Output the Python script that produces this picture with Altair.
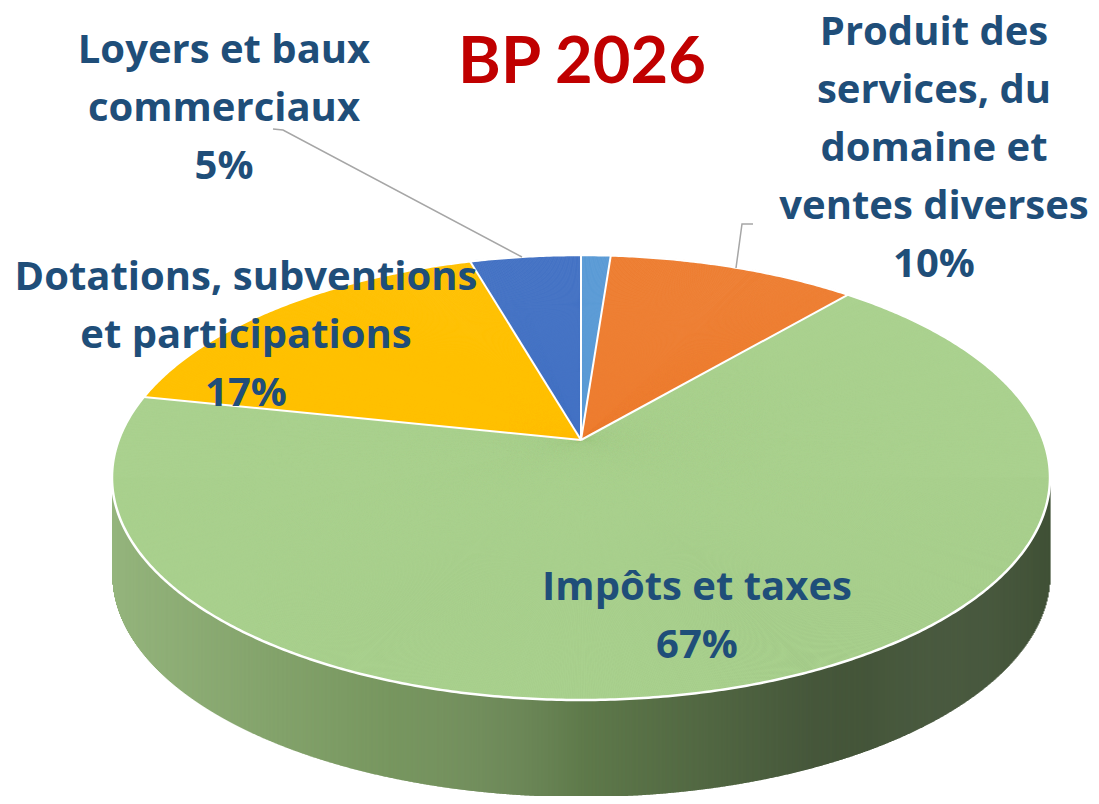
import math
import altair as alt
import pandas as pd

# ---------------- data ----------------
categories = [
    "Autres produits",
    "Produit des services, du domaine et ventes diverses",
    "Impôts et taxes",
    "Dotations, subventions et participations",
    "Loyers et baux commerciaux",
]
values = [1.2, 10.1, 67.0, 17.2, 4.5]          # clockwise from 12 o'clock
colors = ["#5B9BD5", "#ED7D31", "#A9D18E", "#FFC000", "#4472C4"]

label_texts = [
    "Loyers et baux\ncommerciaux\n5%",
    "Produit des\nservices, du\ndomaine et\nventes diverses\n10%",
    "Dotations, subventions\net participations\n17%",
    "Impôts et taxes\n67%",
]
label_x = [224, 934, 246, 697]
label_y = [63, 45, 290, 600]

title_text = "BP 2026"
title_x, title_y = 582, 83

leader_id = ["L", "L", "L", "P", "P", "P"]
leader_x = [273, 283, 522, 753, 742, 736]
leader_y = [129, 130, 257, 224, 224, 268]

# ---------------- geometry / style ----------------
OFF = 8
CX, CY = 581 - OFF, 440 - OFF          # apex of the pie (projected centre)
A, B, K = 462.3, 216.2, 0.1685         # perspective projection of the disc
DEPTH = 97
RX = A / math.sqrt(1 - K * K)
RY = B / (1 - K * K)
CYE = CY + B * K / (1 - K * K)         # geometric centre of the top ellipse
XL, XR = CX - RX, CX + RX
W = XR - XL

LABEL_FONT = "Open Sans"

df = pd.DataFrame({"cat": categories, "value": values, "order": list(range(len(values)))})
lab = pd.DataFrame({"text": label_texts, "x": [v - OFF for v in label_x], "y": [v - OFF for v in label_y]})
lead = pd.DataFrame({"id": leader_id, "x": [v - OFF for v in leader_x],
                     "y": [v - OFF for v in leader_y], "o": list(range(len(leader_x)))})
ttl = pd.DataFrame({"text": [title_text], "x": [title_x - OFF], "y": [title_y - OFF]})

NOSC = dict(scale=None, axis=None)

def cum(ch):
    return ch.transform_window(cum="sum(value)", sort=[alt.SortField("order")], frame=[None, 0]
    ).transform_joinaggregate(total="sum(value)"
    ).transform_calculate(
        s="2*PI*(datum.cum-datum.value)/datum.total",
        e="2*PI*datum.cum/datum.total",
    )

# side wall (vertical columns, shaded through a colour scale)
NCOL = 940
wall = alt.Chart(alt.sequence(0, NCOL, as_="i")).transform_calculate(
    xa=f"{XL} + datum.i*{W / NCOL}",
    xb=f"{XL} + (datum.i+1)*{W / NCOL} + 0.6",
    xm=f"{XL} + (datum.i+0.5)*{W / NCOL}",
    u=f"(datum.xm - {CX})/{RX}",
    ya=f"{CYE}",
    yb=f"{CYE} + {RY}*sqrt(max(0, 1 - datum.u*datum.u)) + {DEPTH}",
).mark_rect().encode(
    x=alt.X("xa:Q", **NOSC), x2="xb:Q",
    y=alt.Y("ya:Q", **NOSC), y2="yb:Q",
    color=alt.Color("xm:Q", legend=None, scale=alt.Scale(
        domain=[XL, XL + 0.3 * W, XL + 0.5 * W, XL + 0.75 * W, XR],
        range=["#94b47c", "#77965f", "#5f7a4b", "#46573b", "#3f5035"],
        interpolate="rgb")),
)

# top face: each slice split into thin arcs following the ellipse
STEP = 0.2 * math.pi / 180
pie = cum(alt.Chart(df)).transform_calculate(
    n=f"ceil((datum.e-datum.s)/{STEP})"
).transform_calculate(
    ks="sequence(0, datum.n)"
).transform_flatten(["ks"], as_=["k"]).transform_calculate(
    p1="datum.s+(datum.e-datum.s)*datum.k/datum.n",
    p2="datum.s+(datum.e-datum.s)*(datum.k+1)/datum.n",
).transform_calculate(
    pm="(datum.p1+datum.p2)/2",
    a1=f"atan2({A}*sin(datum.p1), {B}*cos(datum.p1))",
    a2=f"atan2({A}*sin(datum.p2), {B}*cos(datum.p2))",
).transform_calculate(
    t1="datum.a1 + 2*PI*round((datum.p1-datum.a1)/(2*PI))",
    t2="datum.a2 + 2*PI*round((datum.p2-datum.a2)/(2*PI))",
    r=f"sqrt(pow({A}*sin(datum.pm),2)+pow({B}*cos(datum.pm),2))/(1+{K}*cos(datum.pm))",
).mark_arc(x=CX, y=CY, strokeWidth=0.8).encode(
    theta=alt.Theta("t1:Q", scale=None),
    theta2="t2:Q",
    radius=alt.Radius("r:Q", scale=None),
    fill=alt.Fill("cat:N", legend=None, scale=alt.Scale(domain=categories, range=colors)),
    stroke=alt.Stroke("cat:N", legend=None, scale=alt.Scale(domain=categories, range=colors)),
)

# white rim of the top face
rim = alt.Chart(alt.sequence(0, 721, as_="i")).transform_calculate(
    p="datum.i*PI/360"
).transform_calculate(
    x=f"{CX} + {A}*sin(datum.p)/(1+{K}*cos(datum.p))",
    y=f"{CY} - {B}*cos(datum.p)/(1+{K}*cos(datum.p))",
).mark_line(color="white", strokeWidth=2.5).encode(
    x=alt.X("x:Q", **NOSC), y=alt.Y("y:Q", **NOSC), order="i:Q"
)

# white separators between slices
seps = cum(alt.Chart(df)).transform_calculate(
    x0=f"{CX}", y0=f"{CY}",
    x1=f"{CX} + {A}*sin(datum.e)/(1+{K}*cos(datum.e))",
    y1=f"{CY} - {B}*cos(datum.e)/(1+{K}*cos(datum.e))",
).mark_rule(color="white", strokeWidth=2).encode(
    x=alt.X("x0:Q", **NOSC), x2="x1:Q", y=alt.Y("y0:Q", **NOSC), y2="y1:Q"
)

leaders = alt.Chart(lead).mark_line(color="#A6A6A6", strokeWidth=1.5).encode(
    x=alt.X("x:Q", **NOSC), y=alt.Y("y:Q", **NOSC), detail="id:N", order="o:Q"
)

labels = alt.Chart(lab).mark_text(
    font=LABEL_FONT, fontWeight="bold", fontSize=40, color="#1F4E79",
    align="center", baseline="alphabetic", lineBreak="\n", lineHeight=58,
).encode(x=alt.X("x:Q", **NOSC), y=alt.Y("y:Q", **NOSC), text="text:N")

title = alt.Chart(ttl).mark_text(
    font="Lato", fontWeight="bold", fontSize=65, color="#C00000",
    align="center", baseline="alphabetic",
).encode(x=alt.X("x:Q", **NOSC), y=alt.Y("y:Q", **NOSC), text="text:N")

chart = alt.layer(wall, pie, rim, seps, leaders, labels, title).resolve_scale(
    color="independent", fill="independent", stroke="independent"
).properties(
    width=1083, height=788, padding=0, autosize="none"
).configure_view(stroke=None)

chart.save("out.html", embed_options={"renderer": "svg", "actions": False})
